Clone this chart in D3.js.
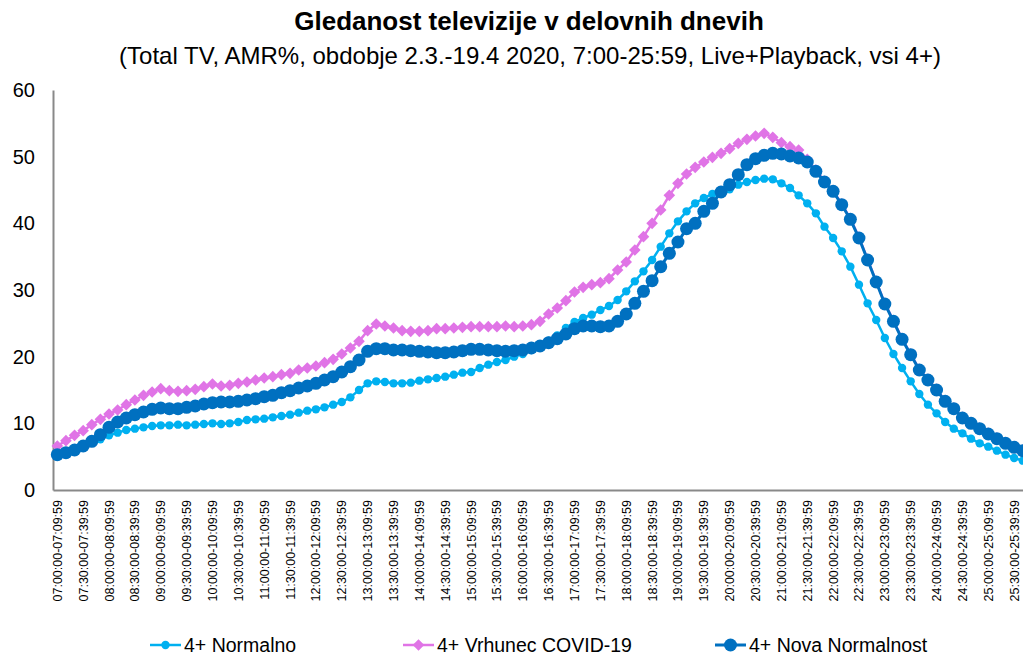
<!DOCTYPE html>
<html>
<head>
<meta charset="utf-8">
<script src="https://cdn.jsdelivr.net/npm/d3@7"></script>
<style>
body { margin: 0; background: #fff; }
text { font-family: "Liberation Sans", Arial, sans-serif; fill: #000; }
</style>
</head>
<body>
<div id="chart"></div>
<script>
var width = 1023;
var height = 657;

// 10-minute slots, 7:00 - 25:59
var slots = [
"07:00:00-07:09:59","07:10:00-07:19:59","07:20:00-07:29:59","07:30:00-07:39:59","07:40:00-07:49:59","07:50:00-07:59:59",
"08:00:00-08:09:59","08:10:00-08:19:59","08:20:00-08:29:59","08:30:00-08:39:59","08:40:00-08:49:59","08:50:00-08:59:59",
"09:00:00-09:09:59","09:10:00-09:19:59","09:20:00-09:29:59","09:30:00-09:39:59","09:40:00-09:49:59","09:50:00-09:59:59",
"10:00:00-10:09:59","10:10:00-10:19:59","10:20:00-10:29:59","10:30:00-10:39:59","10:40:00-10:49:59","10:50:00-10:59:59",
"11:00:00-11:09:59","11:10:00-11:19:59","11:20:00-11:29:59","11:30:00-11:39:59","11:40:00-11:49:59","11:50:00-11:59:59",
"12:00:00-12:09:59","12:10:00-12:19:59","12:20:00-12:29:59","12:30:00-12:39:59","12:40:00-12:49:59","12:50:00-12:59:59",
"13:00:00-13:09:59","13:10:00-13:19:59","13:20:00-13:29:59","13:30:00-13:39:59","13:40:00-13:49:59","13:50:00-13:59:59",
"14:00:00-14:09:59","14:10:00-14:19:59","14:20:00-14:29:59","14:30:00-14:39:59","14:40:00-14:49:59","14:50:00-14:59:59",
"15:00:00-15:09:59","15:10:00-15:19:59","15:20:00-15:29:59","15:30:00-15:39:59","15:40:00-15:49:59","15:50:00-15:59:59",
"16:00:00-16:09:59","16:10:00-16:19:59","16:20:00-16:29:59","16:30:00-16:39:59","16:40:00-16:49:59","16:50:00-16:59:59",
"17:00:00-17:09:59","17:10:00-17:19:59","17:20:00-17:29:59","17:30:00-17:39:59","17:40:00-17:49:59","17:50:00-17:59:59",
"18:00:00-18:09:59","18:10:00-18:19:59","18:20:00-18:29:59","18:30:00-18:39:59","18:40:00-18:49:59","18:50:00-18:59:59",
"19:00:00-19:09:59","19:10:00-19:19:59","19:20:00-19:29:59","19:30:00-19:39:59","19:40:00-19:49:59","19:50:00-19:59:59",
"20:00:00-20:09:59","20:10:00-20:19:59","20:20:00-20:29:59","20:30:00-20:39:59","20:40:00-20:49:59","20:50:00-20:59:59",
"21:00:00-21:09:59","21:10:00-21:19:59","21:20:00-21:29:59","21:30:00-21:39:59","21:40:00-21:49:59","21:50:00-21:59:59",
"22:00:00-22:09:59","22:10:00-22:19:59","22:20:00-22:29:59","22:30:00-22:39:59","22:40:00-22:49:59","22:50:00-22:59:59",
"23:00:00-23:09:59","23:10:00-23:19:59","23:20:00-23:29:59","23:30:00-23:39:59","23:40:00-23:49:59","23:50:00-23:59:59",
"24:00:00-24:09:59","24:10:00-24:19:59","24:20:00-24:29:59","24:30:00-24:39:59","24:40:00-24:49:59","24:50:00-24:59:59",
"25:00:00-25:09:59","25:10:00-25:19:59","25:20:00-25:29:59","25:30:00-25:39:59","25:40:00-25:49:59","25:50:00-25:59:59"
];

// x-axis only labels every half hour
var tickLabels = [
"07:00:00-07:09:59","07:30:00-07:39:59","08:00:00-08:09:59","08:30:00-08:39:59","09:00:00-09:09:59","09:30:00-09:39:59",
"10:00:00-10:09:59","10:30:00-10:39:59","11:00:00-11:09:59","11:30:00-11:39:59","12:00:00-12:09:59","12:30:00-12:39:59",
"13:00:00-13:09:59","13:30:00-13:39:59","14:00:00-14:09:59","14:30:00-14:39:59","15:00:00-15:09:59","15:30:00-15:39:59",
"16:00:00-16:09:59","16:30:00-16:39:59","17:00:00-17:09:59","17:30:00-17:39:59","18:00:00-18:09:59","18:30:00-18:39:59",
"19:00:00-19:09:59","19:30:00-19:39:59","20:00:00-20:09:59","20:30:00-20:39:59","21:00:00-21:09:59","21:30:00-21:39:59",
"22:00:00-22:09:59","22:30:00-22:39:59","23:00:00-23:09:59","23:30:00-23:39:59","24:00:00-24:09:59","24:30:00-24:39:59",
"25:00:00-25:09:59","25:30:00-25:39:59"
];

var yTicks = [0, 10, 20, 30, 40, 50, 60];

var normalno = [
5.3, 5.7, 6.2, 6.7, 7.2, 7.6, 8.2, 8.6, 9.0, 9.2, 9.4, 9.6, 9.7,
9.7, 9.8, 9.7, 9.8, 9.9, 10.0, 9.9, 10.0,
10.2, 10.5, 10.6, 10.7, 10.9, 11.1, 11.3, 11.6, 11.9, 12.1, 12.4, 12.8, 13.2, 13.9, 15.0,
16.0, 16.3, 16.2, 16.0, 16.0, 16.1, 16.4, 16.6, 16.8, 17.0,
17.3, 17.6, 17.7, 18.3, 18.8, 19.2, 19.5, 20.0, 20.4, 21.0, 21.7, 22.4, 23.2, 24.3, 25.2, 25.8, 26.3, 27.0, 27.6, 28.5, 29.8, 31.3, 32.8, 34.5,
36.5, 38.5, 40.3, 41.8, 43.0, 43.8, 44.4, 44.8, 45.1, 45.8, 46.2, 46.5, 46.7, 46.6, 46.0, 45.3, 44.2, 43.0,
41.5, 39.5, 37.8, 35.8, 33.5, 30.8, 28.0, 25.5, 22.8, 20.4, 18.3, 16.3, 14.4, 12.8, 11.5, 10.2, 9.2, 8.5, 7.7, 7.0, 6.5, 5.9, 5.3, 4.8, 4.4, 4.0
];

var vrhunec = [
6.6, 7.4, 8.2, 8.9, 9.8, 10.6, 11.4, 12.0, 12.8, 13.5, 14.2, 14.7, 15.2,
14.9, 14.8, 14.9, 15.1, 15.5, 15.9, 15.6, 15.7, 16.0, 16.2, 16.5, 16.8, 17.0, 17.3, 17.5,
18.0, 18.3, 18.6, 19.1, 19.6, 20.4, 21.3, 22.3, 23.9, 24.9,
24.6, 24.3, 23.9, 23.8, 23.8, 23.9, 24.2, 24.2, 24.3, 24.4, 24.5, 24.5, 24.5, 24.5, 24.6, 24.5, 24.6, 24.8,
25.3, 26.4, 27.3, 28.4, 29.7, 30.4, 30.8, 31.1, 31.7, 33.0, 34.2, 36.0, 38.0, 40.0, 42.0,
44.2, 46.0, 47.4, 48.4, 49.2, 49.9, 50.5, 51.2, 52.0, 52.6, 53.1, 53.5, 52.9, 52.1, 51.5, 51.0,
49.6, 48.0, 46.3, 44.9, 42.9, 40.7, 37.9, 34.6, 31.3, 28.0, 25.4, 22.7, 20.4, 18.1, 16.6, 15.1, 13.4, 12.3, 10.9, 10.1, 9.3, 8.5, 7.8, 7.1, 6.5, 6.0, 5.5
];

var nova = [
5.3, 5.6, 6.0, 6.6, 7.3, 8.3, 9.4, 10.2, 10.8, 11.3, 11.7, 12.1, 12.3,
12.2, 12.2, 12.4, 12.6, 12.9, 13.1, 13.2, 13.2, 13.3, 13.5, 13.7, 14.0, 14.2, 14.6, 14.9, 15.3, 15.6, 16.0, 16.5, 17.0, 17.7, 18.5, 19.5,
20.8, 21.2, 21.2, 21.0, 21.0, 20.9, 20.8, 20.7, 20.6, 20.6, 20.7, 20.9, 21.1, 21.1, 21.0, 20.9, 20.8, 20.9, 21.0, 21.3, 21.6, 22.1, 22.7, 23.4, 24.2,
24.6, 24.6, 24.5, 24.6, 25.3, 26.4, 28.0, 29.8, 31.4, 33.5, 35.5, 37.2, 39.2, 40.0, 41.8, 43.0, 44.7, 45.8, 47.3, 48.8, 49.7, 50.2, 50.5, 50.4, 50.1, 49.8, 49.2,
47.8, 46.2, 44.8, 42.8, 40.6, 37.8, 34.5, 31.2, 27.9, 25.3, 22.6, 20.3, 18.0, 16.5, 15.0, 13.3, 12.2, 10.8, 10.0, 9.2, 8.4, 7.7, 7.0, 6.4, 5.9, 5.4
];

var seriesNames = ["4+ Normalno", "4+ Vrhunec COVID-19", "4+ Nova Normalnost"];

var series = [
  { name: seriesNames[0], values: normalno, color: "#00b0f0", width: 2.5, marker: "circle", size: 4.2 },
  { name: seriesNames[1], values: vrhunec, color: "#e074e6", width: 2.5, marker: "diamond", size: 5.8 },
  { name: seriesNames[2], values: nova, color: "#0070c0", width: 3, marker: "circle", size: 6.5 }
];

var svg = d3.select("#chart").append("svg")
  .attr("width", width)
  .attr("height", height);

// plot area (runs a bit past the right edge, like the original)
var plotLeft = 53;
var step = 8.62;
var plotTop = 90;
var plotBottom = 490;

var xScale = d3.scaleBand()
  .domain(slots)
  .range([plotLeft, plotLeft + step * slots.length]);

var yScale = d3.scaleLinear()
  .domain([0, 60])
  .range([plotBottom, plotTop]);

function xPos(i) {
  return xScale(slots[i]) + xScale.bandwidth() / 2;
}

// title
svg.append("text")
  .attr("x", 529)
  .attr("y", 30)
  .attr("text-anchor", "middle")
  .style("font-size", "26px")
  .style("font-weight", "bold")
  .text("Gledanost televizije v delovnih dnevih");

svg.append("text")
  .attr("x", 530)
  .attr("y", 64)
  .attr("text-anchor", "middle")
  .style("font-size", "24px")
  .text("(Total TV, AMR%, obdobje 2.3.-19.4 2020, 7:00-25:59, Live+Playback, vsi 4+)");

// y axis
var yAxis = d3.axisLeft(yScale)
  .tickValues(yTicks)
  .tickSize(0)
  .tickSizeOuter(0)
  .tickPadding(18);

var gy = svg.append("g")
  .attr("class", "yAxis")
  .attr("transform", "translate(" + plotLeft + ",0)")
  .call(yAxis);
gy.select(".domain").attr("stroke", "#898989").attr("stroke-width", 2);
gy.selectAll("text")
  .style("font-size", "20px")
  .attr("fill", "#000");

// x axis
var xAxis = d3.axisBottom(xScale)
  .tickValues(tickLabels)
  .tickSize(0)
  .tickSizeOuter(0);

var gx = svg.append("g")
  .attr("class", "xAxis")
  .attr("transform", "translate(0," + plotBottom + ")")
  .call(xAxis);
gx.select(".domain").attr("stroke", "#898989").attr("stroke-width", 2);
gx.selectAll("text")
  .attr("transform", "rotate(-90)")
  .attr("text-anchor", "end")
  .attr("x", -10)
  .attr("y", 0)
  .attr("dy", "0.36em")
  .style("font-size", "12.5px")
  .attr("fill", "#000");

// lines + markers
var line = d3.line()
  .x(function(d, i) { return xPos(i); })
  .y(function(d) { return yScale(d); });

var diamond = function(s) {
  return "M0," + (-s) + "L" + s + ",0L0," + s + "L" + (-s) + ",0Z";
};

series.forEach(function(s) {
  var g = svg.append("g").attr("class", "series");
  g.append("path")
    .datum(s.values)
    .attr("d", line)
    .attr("fill", "none")
    .attr("stroke", s.color)
    .attr("stroke-width", s.width);

  if (s.marker === "circle") {
    g.selectAll("circle")
      .data(s.values)
      .enter()
      .append("circle")
      .attr("cx", function(d, i) { return xPos(i); })
      .attr("cy", function(d) { return yScale(d); })
      .attr("r", s.size)
      .attr("fill", s.color);
  } else {
    g.selectAll("path.mk")
      .data(s.values)
      .enter()
      .append("path")
      .attr("class", "mk")
      .attr("d", diamond(s.size))
      .attr("transform", function(d, i) {
        return "translate(" + xPos(i) + "," + yScale(d) + ")";
      })
      .attr("fill", s.color);
  }
});

// legend
var legendX = [150, 403, 715];
var legendY = 645;
var legend = svg.append("g").attr("class", "legend");
series.forEach(function(s, k) {
  var lg = legend.append("g")
    .attr("transform", "translate(" + legendX[k] + "," + legendY + ")");
  lg.append("line")
    .attr("x1", 0).attr("x2", 31)
    .attr("y1", 0).attr("y2", 0)
    .attr("stroke", s.color)
    .attr("stroke-width", s.width);
  if (s.marker === "circle") {
    lg.append("circle").attr("cx", 15.5).attr("cy", 0).attr("r", s.size).attr("fill", s.color);
  } else {
    lg.append("path").attr("d", diamond(s.size)).attr("transform", "translate(15.5,0)").attr("fill", s.color);
  }
  lg.append("text")
    .attr("x", 34)
    .attr("y", 0)
    .attr("dy", "0.35em")
    .style("font-size", "19.5px")
    .text(s.name);
});
</script>
</body>
</html>
